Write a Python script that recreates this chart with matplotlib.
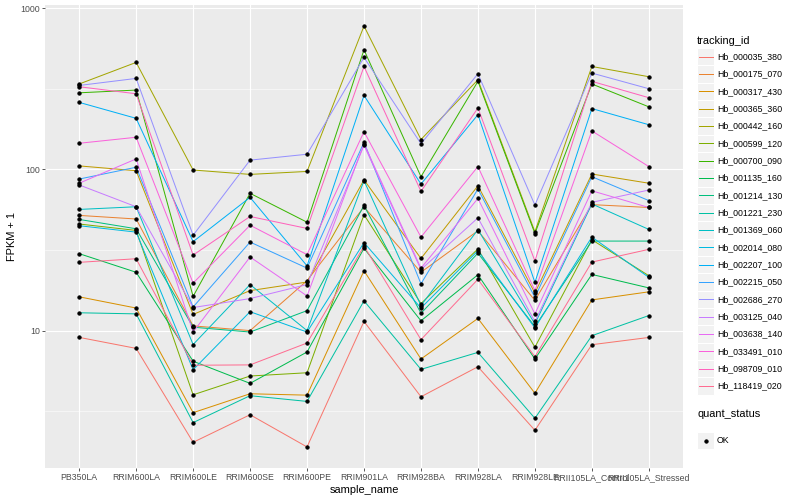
import matplotlib
matplotlib.use("Agg")
import matplotlib.pyplot as plt
import numpy as np
from matplotlib.lines import Line2D
from matplotlib.patches import Rectangle

plt.rcParams['font.family'] = ['Liberation Sans', 'DejaVu Sans']

samples = ["PB350LA", "RRIM600LA", "RRIM600LE", "RRIM600SE", "RRIM600PE", "RRIM901LA",
           "RRIM928BA", "RRIM928LA", "RRIM928LE", "RRII105LA_Control", "RRII105LA_Stressed"]

tracking_ids = ["Hb_000035_380", "Hb_000175_070", "Hb_000317_430", "Hb_000365_360",
                "Hb_000442_160", "Hb_000599_120", "Hb_000700_090", "Hb_001135_160",
                "Hb_001214_130", "Hb_001221_230", "Hb_001369_060", "Hb_002014_080",
                "Hb_002207_100", "Hb_002215_050", "Hb_002686_270", "Hb_003125_040",
                "Hb_003638_140", "Hb_033491_010", "Hb_098709_010", "Hb_118419_020"]

# FPKM + 1, one list per gene, in sample order
hb_000035_380 = [9.08, 7.76, 2.03, 3.01, 1.9, 11.4, 3.89, 5.97, 2.41, 8.18, 9.07]
hb_000175_070 = [51.8, 49.2, 10.7, 10.0, 20.4, 58.4, 23.0, 41.6, 15.4, 60.4, 58.0]
hb_000317_430 = [16.2, 13.8, 3.1, 4.06, 3.98, 23.5, 6.67, 11.9, 4.09, 15.5, 17.4]
hb_000365_360 = [105, 98, 12.6, 17.7, 20.0, 86, 28, 79, 17.1, 93.5, 82]
hb_000442_160 = [338, 460, 99, 93, 97, 773, 153, 359, 41, 434, 375]
hb_000599_120 = [45.8, 41.8, 4.0, 5.23, 5.48, 52.3, 14.7, 32.1, 7.89, 36.6, 21.9]
hb_000700_090 = [298, 310, 16.3, 71, 47, 551, 90, 351, 40, 338, 244]
hb_001135_160 = [30.0, 23.0, 6.46, 4.71, 7.37, 32.4, 11.5, 22.2, 6.67, 22.3, 18.4]
hb_001214_130 = [48.9, 42.8, 10.5, 9.8, 13.3, 59.7, 12.8, 30.2, 10.6, 35.9, 35.9]
hb_001221_230 = [12.9, 12.7, 2.69, 3.95, 3.64, 15.3, 5.75, 7.33, 2.86, 9.3, 12.4]
hb_001369_060 = [56.4, 58.6, 8.2, 19.3, 10.0, 85, 14.3, 42.3, 11.0, 61, 42.4]
hb_002014_080 = [44.7, 40.8, 5.72, 13.1, 9.8, 35.1, 13.8, 31.3, 10.4, 38, 21.4]
hb_002207_100 = [260, 207, 35.6, 67, 25.2, 287, 81, 218, 19.9, 238, 189]
hb_002215_050 = [87, 103, 14.0, 35.4, 24.4, 147, 19.5, 75.5, 16.1, 90, 64]
hb_002686_270 = [331, 366, 39, 114, 124, 494, 144, 391, 60, 395, 316]
hb_003125_040 = [80, 58.6, 13.9, 15.8, 19.3, 141, 23.9, 50, 11.4, 62.4, 74.4]
hb_003638_140 = [82, 116, 9.8, 28.6, 16.4, 144, 24.4, 66, 12.7, 73.6, 58]
hb_033491_010 = [145, 158, 19.7, 45, 29.6, 171, 38, 104, 17.7, 173, 104]
hb_098709_010 = [325, 294, 29.4, 51, 43, 434, 73, 240, 27, 351, 278]
hb_118419_020 = [26.5, 27.9, 6.1, 6.13, 8.38, 33.4, 8.79, 20.8, 6.89, 26.6, 31.9]

series = [hb_000035_380, hb_000175_070, hb_000317_430, hb_000365_360, hb_000442_160,
          hb_000599_120, hb_000700_090, hb_001135_160, hb_001214_130, hb_001221_230,
          hb_001369_060, hb_002014_080, hb_002207_100, hb_002215_050, hb_002686_270,
          hb_003125_040, hb_003638_140, hb_033491_010, hb_098709_010, hb_118419_020]

quant_status = ["OK"]

# ggplot2 default hue palette for 20 groups
colores = ["#F8766D", "#EA8331", "#D89000", "#C09B00", "#A3A500", "#7CAE00", "#39B600",
           "#00BB4E", "#00BF7D", "#00C1A3", "#00BFC4", "#00BAE0", "#00B0F6", "#35A2FF",
           "#9590FF", "#C77CFF", "#E76BF3", "#FA62DB", "#FF62BC", "#FF6C91"]

W, H = 800, 500
fig = plt.figure(figsize=(W / 72, H / 72), dpi=72)
ax = fig.add_axes([45 / W, 32 / H, 638 / W, 463 / H])
ax.set_facecolor("#EBEBEB")

x = np.arange(len(samples))
for valores, cor in zip(series, colores):
    ax.plot(x, valores, color=cor, lw=1.0, zorder=2)
for valores in series:
    ax.plot(x, valores, ls="none", marker="o", ms=3.3, color="black", zorder=3)

ax.set_yscale("log")
todos = np.log10(np.concatenate([np.array(s, dtype=float) for s in series]))
span = todos.max() - todos.min()
ax.set_ylim(10 ** (todos.min() - 0.05 * span), 10 ** (todos.max() + 0.05 * span))
ax.set_xlim(-0.6, len(samples) - 0.4)

ax.set_yticks([10, 100, 1000])
ax.set_yticklabels(["10", "100", "1000"])
ax.set_yticks([10 ** 0.5, 10 ** 1.5, 10 ** 2.5], minor=True)
ax.yaxis.set_minor_formatter(plt.NullFormatter())
ax.set_xticks(x)
ax.set_xticklabels(samples)
ax.tick_params(which="major", length=2.75, width=0.8, color="#333333",
               labelsize=8.8, labelcolor="#4D4D4D", pad=2)
ax.tick_params(which="minor", length=0)
ax.grid(which="major", color="white", lw=1.1)
ax.grid(which="minor", axis="y", color="white", lw=0.55)
ax.set_axisbelow(True)
for lado in ax.spines.values():
    lado.set_visible(False)

ax.set_xlabel("sample_name", fontsize=11, labelpad=3)
ax.set_ylabel("FPKM + 1", fontsize=11, labelpad=4)


def fx(px):
    return px / W


def fy(py):
    return 1 - py / H


def chave(yc, cor=None, ponto=False):
    # ggplot style key: light gray box with a line or a dot
    fig.add_artist(Rectangle((fx(697), fy(yc + 8.6)), 17 / W, 17.2 / H,
                             facecolor="#F2F2F2", edgecolor="white", lw=1.0,
                             transform=fig.transFigure))
    if ponto:
        fig.add_artist(Line2D([fx(705.5)], [fy(yc)], marker="o", ms=3.3, color="black",
                              lw=0, transform=fig.transFigure))
    else:
        fig.add_artist(Line2D([fx(698.5), fx(712.5)], [fy(yc), fy(yc)], color=cor, lw=1.0,
                              transform=fig.transFigure))


# legend: tracking_id
fig.text(fx(697), fy(40.5), "tracking_id", fontsize=11, va="center", ha="left")
for i, (nome, cor) in enumerate(zip(tracking_ids, colores)):
    yc = 56.7 + i * 17.33
    chave(yc, cor)
    fig.text(fx(717), fy(yc), nome, fontsize=8.8, va="center", ha="left")

# legend: quant_status
fig.text(fx(697), fy(414), "quant_status", fontsize=11, va="center", ha="left")
for j, estado in enumerate(quant_status):
    yc = 440.5 + j * 17.33
    chave(yc, ponto=True)
    fig.text(fx(717), fy(yc), estado, fontsize=8.8, va="center", ha="left")

fig.savefig("out.png", dpi=72)
